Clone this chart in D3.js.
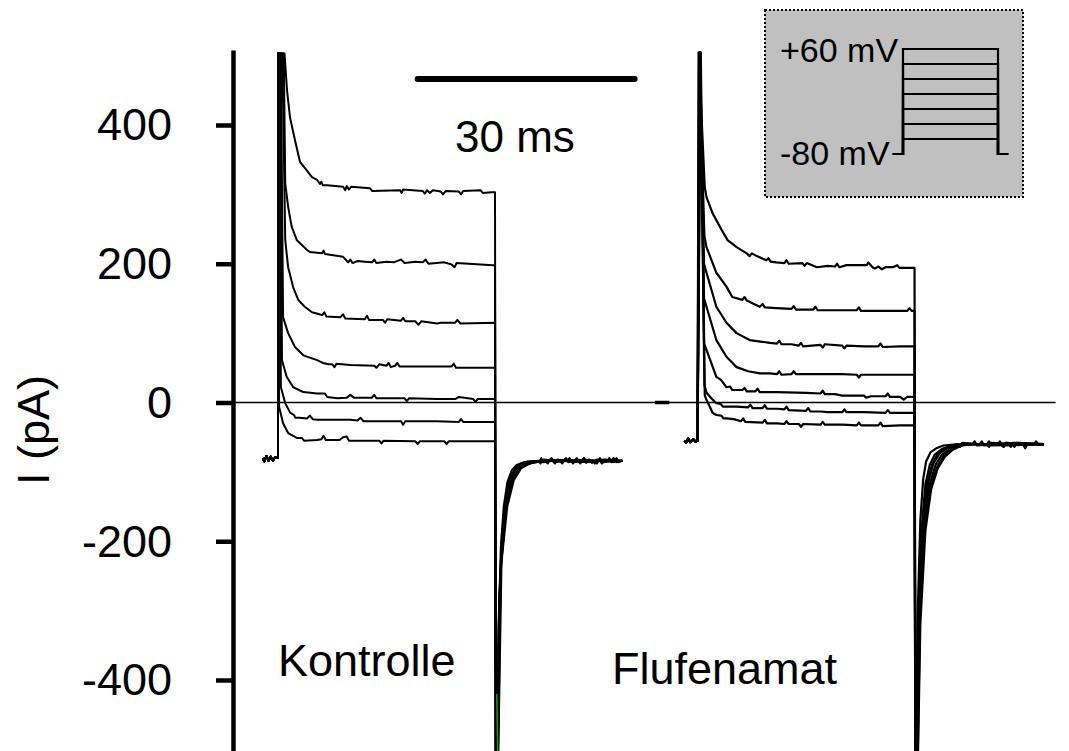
<!DOCTYPE html>
<html><head><meta charset="utf-8">
<script src="https://cdn.jsdelivr.net/npm/d3@7"></script>
<style>
body{margin:0;background:#fff}
svg{display:block}
text{font-family:Arial,"Liberation Sans",sans-serif;fill:#000}
</style>
</head><body>
<svg id="c" width="1069" height="751"></svg>
<script>
// ---------------- data ----------------
const yTicks = [-400, -200, 0, 200, 400];
const yTickLabels = ["-400", "-200", "0", "200", "400"];
const yLabel = "I (pA)";
const conditions = ["Kontrolle", "Flufenamat"];
const conditionOnset = [0, 58];          // ms, sweep start of each condition
const stepDuration = 30;                 // ms
const scaleBarMs = 30;
const scaleBarLabel = "30 ms";
const protocolLevels = [60, 40, 20, 0, -20, -40, -60]; // mV
const holdingPotential = -80;            // mV
const protocolLabels = ["+60 mV", "-80 mV"];

// holding current before the step [ms, pA]
const kontrolleHolding = [[-2.1,-80],[-1.9,-85],[-1.6,-77],[-1.3,-84],[-1.0,-78],[-0.7,-84],[-0.4,-79],[0,-80]];
const flufenamatHolding = [[-1.8,-55],[-1.6,-58],[-1.3,-52],[-1.0,-57],[-0.6,-53],[-0.3,-56],[0,-55]];
const flufenamatPreZero = [[-5.9,0],[-3.9,0]];

// Kontrolle sweeps [ms, pA]
const kontrolle = [
 [[0,-80],[0,503],[0.9,503],[1.25,450],[1.66,411],[2.35,378],[3.04,347],[3.73,338],[4.7,325],[5.4,321],[5.8,315],[6.0,318],[6.2,313],[6.8,313],[9.0,311],[9.3,306],[9.5,312],[9.8,307],[10.1,311],[12.7,309],[13,305],[16.9,306],[17.1,302],[17.3,307],[20,305],[20.3,301],[20.6,306],[21,302],[21.4,306],[22.5,304],[22.8,300],[23.2,305],[25,304],[25.3,300],[25.6,305],[28,306],[28.3,302],[29.5,303],[30,303],
  [30.15,-700],[30.5,-320],[30.8,-210],[31.2,-150],[31.7,-115],[32.3,-98],[33,-90],[34,-86],[35,-85],[36.2,-84],[36.4,-80],[36.6,-86],[38,-84],[38.3,-88],[38.6,-82],[40,-84],[42,-84],[42.3,-80],[42.6,-87],[43,-82],[43.4,-87],[44,-83],[46,-84],[46.4,-80],[46.8,-86],[47.6,-84]],
 [[0,-80],[0,503],[0.8,503],[1.0,316],[1.4,282],[1.9,253],[2.6,234],[3.3,227],[4.0,220],[4.4,217],[6.1,215],[6.3,219],[6.5,214],[9,210],[9.7,202],[10,206],[10.3,201],[11,204],[12,203],[13,202],[13.3,206],[13.6,201],[15,203],[16,202],[17,206],[17.5,201],[19,203],[20,202],[20.4,206],[20.8,200],[23,202],[24,199],[24.4,195],[24.7,201],[29.7,198],[30,198],
  [30.15,-700],[30.55,-300],[30.95,-190],[31.5,-135],[32.1,-108],[32.8,-95],[33.6,-88],[34.5,-85],[37,-84],[37.3,-88],[37.6,-82],[39.5,-84],[39.8,-80],[40.1,-86],[41,-84],[43.5,-84],[43.8,-88],[44.1,-82],[45.5,-84],[45.8,-80],[46.1,-86],[47.6,-84]],
 [[0,-80],[0,503],[0.6,503],[1.0,234],[1.4,195],[2.1,166],[2.8,148],[3.7,138],[4.7,130],[5.5,128],[6.1,126],[6.4,130],[6.7,124],[8.6,123],[9,127],[9.3,121],[12,120],[12.3,125],[12.6,119],[14.5,119],[14.8,115],[15.1,120],[17,118],[17.3,122],[17.6,117],[19,117],[19.4,112],[19.8,117],[22,114],[22.5,115],[24.5,115],[24.8,119],[25.2,114],[30,115],
  [30.15,-700],[30.5,-330],[30.9,-205],[31.4,-145],[32,-112],[32.7,-97],[33.4,-89],[34.3,-86],[36,-84],[36.3,-88],[36.6,-82],[38.5,-84],[41,-84],[41.3,-80],[41.6,-86],[44.5,-84],[44.8,-88],[45.1,-82],[47.6,-84]],
 [[0,-80],[0,503],[0.4,503],[0.7,123],[1.4,100],[2.35,80],[3.5,68],[5.4,61],[6.2,57],[7,55],[7.5,55],[7.8,51],[8.1,56],[10,54],[13.3,53],[13.6,50],[14,55],[15,53],[15.3,57],[15.6,51],[16.2,53],[16.5,57],[16.8,52],[20,52],[24,52],[24.3,56],[24.6,50],[29.7,50],[30,50],
  [30.15,-700],[30.6,-280],[31.1,-180],[31.7,-130],[32.4,-105],[33.2,-93],[34.2,-87],[35.5,-85],[37.5,-84],[37.8,-80],[38.1,-86],[40.5,-84],[40.8,-88],[41.1,-82],[43,-84],[46.5,-84],[46.8,-80],[47.1,-86],[47.6,-84]],
 [[0,-80],[0,503],[0.3,503],[0.55,61],[1.2,37],[2.1,22],[3.5,15],[5.4,13],[6.5,13],[6.8,8],[8.2,6],[9.5,7],[10,11],[10.5,7],[13,7],[13.3,11],[13.6,6],[16,6],[17.5,6],[17.8,2],[18.1,6],[22,5],[24.5,5],[25,8],[27,5],[27.3,1],[27.6,5],[30,5],
  [30.15,-700],[30.7,-260],[31.3,-165],[32,-122],[32.8,-100],[33.7,-90],[34.8,-86],[36.5,-84],[39,-84],[39.3,-88],[39.6,-82],[42,-84],[42.3,-80],[42.6,-86],[45,-84],[47.6,-84]],
 [[0,-80],[0,503],[0.1,503],[0.4,22],[1.0,-1],[1.7,-15],[2.2,-18],[2.4,-22],[3.0,-22],[4,-23],[4.4,-19],[4.8,-24],[5.4,-25],[10,-25],[11,-26],[11.4,-22],[11.8,-27],[14,-27],[17,-27],[17.3,-32],[17.6,-27],[22,-27],[25,-28],[25.3,-24],[25.6,-28],[30,-28],
  [30.15,-700],[30.8,-240],[31.5,-155],[32.3,-115],[33.2,-97],[34.3,-89],[35.6,-86],[37.5,-84],[41.5,-84],[41.8,-88],[42.1,-82],[44.2,-84],[44.5,-80],[44.8,-86],[47.6,-84]],
 [[0,-80],[0,503],[0.05,503],[0.15,-6],[0.7,-30],[1.4,-44],[2.6,-51],[3.3,-51],[3.6,-55],[5.4,-54],[6,-53],[6.3,-48],[6.6,-54],[8.5,-54],[9,-50],[9.5,-49],[9.8,-55],[12,-55],[14,-55],[14.3,-59],[14.6,-55],[19,-56],[19.3,-60],[19.6,-56],[23,-56],[23.3,-60],[23.6,-56],[29.7,-56],[30,-56],
  [30.15,-700],[30.9,-230],[31.7,-150],[32.6,-112],[33.6,-95],[34.8,-88],[36.2,-85],[38,-84],[40,-84],[40.3,-80],[40.6,-86],[43.8,-84],[44.1,-88],[44.4,-82],[47.6,-84]]
];
const kontrolleGreenTail = [[30.25,-420],[30.4,-520]];

// Flufenamat sweeps [ms from its onset, pA]
const flufenamat = [
 [[0,-55],[0.15,505],[1.0,310],[1.24,296],[2.07,273],[3.32,249],[4.15,234],[5.4,224],[6.8,215],[7.2,211],[7.5,215],[8.2,211],[9.5,205],[9.8,208],[10.1,203],[10.9,202],[12,201],[12.3,205],[12.6,200],[14.5,201],[14.8,197],[15.1,201],[16.5,195],[18,197],[19,196],[19.3,200],[19.6,195],[20.6,198],[23.4,198],[23.6,202],[24.2,195],[24.5,193],[25,196],[25.5,192],[26,195],[27,195],[27.6,198],[27.9,194],[29.7,194],[30,194],
  [30.15,-700],[30.45,-300],[30.8,-170],[31.2,-110],[31.6,-85],[32.2,-72],[33,-66],[34,-62],[36,-60],[36.3,-64],[36.6,-58],[39,-60],[39.3,-56],[39.6,-62],[42,-60],[42.3,-64],[42.6,-58],[45,-60],[45.3,-66],[45.6,-60],[47.9,-60]],
 [[0,-55],[0.2,505],[0.95,240],[1.24,224],[2.6,187],[4.0,167],[4.8,152],[6.2,148],[6.5,152],[6.8,147],[8.6,138],[9,142],[9.3,137],[10.9,136],[13,135],[13.3,139],[13.6,134],[15,134],[16,134],[16.3,138],[16.6,133],[19,133],[22,133],[22.3,137],[22.6,132],[25,132],[29,132],[29.3,136],[29.6,132],[30,132],
  [30.15,-700],[30.55,-310],[31.0,-180],[31.5,-118],[32.1,-90],[32.8,-75],[33.8,-67],[35,-62],[36.5,-60],[38,-60],[38.3,-56],[38.6,-62],[41,-60],[43.5,-60],[43.8,-64],[44.1,-58],[47.9,-60]],
 [[0,-55],[0.25,505],[0.9,200],[1.24,187],[2.6,138],[4.0,115],[5.4,100],[7.2,90],[10,86],[11,85],[11.3,89],[11.6,84],[13,84],[14,82],[14.3,86],[14.6,81],[17,83],[17.3,79],[17.6,84],[20,82],[20.3,78],[20.6,82],[23,81],[25,81],[25.3,85],[25.6,80],[28,81],[30,81],
  [30.15,-700],[30.6,-300],[31.1,-178],[31.7,-118],[32.4,-90],[33.2,-74],[34.2,-66],[35.5,-62],[37,-60],[40,-60],[40.3,-64],[40.6,-58],[44,-60],[46.5,-60],[46.8,-56],[47.1,-61],[47.9,-60]],
 [[0,-55],[0.3,505],[0.9,150],[1.24,138],[2.6,90],[4.0,66],[5.4,51],[7,45],[8.6,42],[10,42],[11,41],[11.3,45],[11.6,40],[13,41],[13.3,45],[13.6,41],[20,41],[22,40],[22.3,36],[22.6,40],[30,40],
  [30.15,-700],[30.65,-290],[31.2,-172],[31.9,-115],[32.6,-88],[33.5,-73],[34.5,-66],[35.8,-62],[37.5,-60],[41.5,-60],[41.8,-56],[42.1,-62],[47.9,-60]],
 [[0,-55],[0.35,505],[0.9,85],[1.24,76],[2.6,37],[3.2,33],[3.5,29],[4.0,22],[4.5,23],[4.8,18],[6.2,18],[6.5,21],[6.8,16],[8,16],[8.3,20],[8.6,15],[10.9,15],[15,14],[17,13],[17.3,17],[17.6,12],[19,12],[20,10],[23,10],[23.3,7],[24,9],[26,9],[26.3,13],[26.6,8],[28,8],[28.5,4],[29,8],[30,8],
  [30.15,-700],[30.7,-300],[31.3,-175],[32.1,-118],[32.9,-90],[33.8,-75],[34.9,-67],[36.2,-62],[37.8,-60],[43,-60],[43.3,-64],[43.6,-58],[47.9,-60]],
 [[0,-55],[0.4,505],[0.95,25],[1.24,14],[2.0,5],[2.6,-1],[3.2,-2],[3.5,-6],[5.4,-6],[7,-7],[7.3,-3],[7.6,-8],[9,-8],[9.3,-4],[9.6,-9],[11,-9],[12,-10],[12.3,-6],[12.6,-11],[15,-12],[15.3,-8],[15.6,-13],[17,-13],[18,-14],[20,-14],[20.3,-10],[20.6,-14],[23,-14],[26,-15],[26.3,-11],[26.6,-15],[30,-15],
  [30.15,-700],[30.75,-310],[31.4,-180],[32.2,-122],[33.1,-93],[34,-77],[35.1,-68],[36.4,-62],[38,-60],[40,-60],[40.3,-56],[40.6,-62],[47.9,-60]],
 [[0,-55],[0.45,505],[1.0,10],[1.24,4],[2.1,-15],[2.6,-18],[3.3,-19],[3.6,-23],[4.0,-23],[5,-24],[6,-27],[6.3,-23],[6.6,-28],[9,-29],[9.3,-25],[9.6,-30],[11,-30],[12,-31],[12.3,-27],[12.6,-31],[14,-31],[14.3,-35],[14.6,-31],[17,-32],[17.3,-28],[17.6,-32],[20,-32],[22,-33],[22.3,-29],[22.6,-33],[25,-33],[25.3,-29],[25.6,-34],[28,-33],[30,-33],
  [30.15,-700],[30.8,-320],[31.5,-185],[32.3,-125],[33.2,-95],[34.2,-78],[35.3,-68],[36.5,-62],[38,-60],[42,-60],[42.3,-64],[42.6,-58],[45,-60],[47.9,-60]]
];

// ---------------- drawing ----------------
const svg = d3.select("#c");
const W = 1069, H = 751;

const pxPerPA = 0.69375, zeroY = 402.5;
const y = d3.scaleLinear().domain([-505, 508]).range([zeroY + 505 * pxPerPA, zeroY - 508 * pxPerPA]);
const x = d3.scaleLinear().domain([0, stepDuration]).range([278, 495]);

svg.append("defs").append("clipPath").attr("id", "plotClip")
  .append("rect").attr("x", 235).attr("y", y(506)).attr("width", W - 235).attr("height", H - y(506));

// zero line
svg.append("line")
  .attr("x1", x(-6.4)).attr("x2", x(107.5))
  .attr("y1", y(0)).attr("y2", y(0))
  .attr("stroke", "#000").attr("stroke-width", 1.6);

// traces
const line = d3.line().x(d => x(d[0])).y(d => y(d[1]));
const gT = svg.append("g").attr("clip-path", "url(#plotClip)")
  .attr("fill", "none").attr("stroke", "#000").attr("stroke-width", 2).attr("stroke-linejoin", "round");

kontrolle.forEach(tr => {
  const pts = kontrolleHolding.concat(tr).map(d => [d[0] + conditionOnset[0], d[1]]);
  gT.append("path").attr("d", line(pts));
});
gT.append("path").attr("d", line(kontrolleGreenTail.map(d => [d[0] + conditionOnset[0], d[1]])))
  .attr("stroke", "#1a9a1a").attr("stroke-width", 1.5);

gT.append("path").attr("d", line(flufenamatPreZero.map(d => [d[0] + conditionOnset[1], d[1]])))
  .attr("stroke-width", 3.5);
flufenamat.forEach(tr => {
  const pts = flufenamatHolding.concat(tr).map(d => [d[0] + conditionOnset[1], d[1]]);
  gT.append("path").attr("d", line(pts)).attr("stroke-width", 2.2);
});

// y axis
const axis = d3.axisLeft(y).tickValues(yTicks).tickSize(17).tickSizeOuter(0).tickPadding(44)
  .tickFormat((d, i) => yTickLabels[i]);
const gA = svg.append("g").attr("transform", "translate(233,0)").call(axis);
gA.select(".domain").attr("stroke-width", 4.5);
gA.selectAll(".tick line").attr("stroke-width", 4.5);
gA.selectAll(".tick text").attr("font-size", 45).attr("font-family", "Arial, 'Liberation Sans', sans-serif").attr("dy", "0.33em");

svg.append("text").attr("transform", "translate(49,430) rotate(-90)")
  .attr("text-anchor", "middle").attr("font-size", 45).text(yLabel);

// scale bar
const sbStart = 19.3;
svg.append("line").attr("x1", x(sbStart)).attr("x2", x(sbStart + scaleBarMs))
  .attr("y1", 79).attr("y2", 79).attr("stroke", "#000").attr("stroke-width", 6).attr("stroke-linecap", "round");
svg.append("text").attr("x", 455).attr("y", 152).attr("font-size", 44).text(scaleBarLabel);

// condition labels
svg.append("text").attr("x", 278).attr("y", 676).attr("font-size", 45).text(conditions[0]);
svg.append("text").attr("x", 612).attr("y", 684).attr("font-size", 45).text(conditions[1]);

// inset protocol
const inset = svg.append("g");
inset.append("rect").attr("x", 765).attr("y", 10).attr("width", 258).attr("height", 187)
  .attr("fill", "#c0c0c0").attr("stroke", "#000").attr("stroke-width", 2).attr("stroke-dasharray", "2,2");
const ix = d3.scaleLinear().domain([0, stepDuration]).range([903, 998]);
const iy = d3.scaleLinear().domain([holdingPotential, protocolLevels[0]]).range([154, 49]);
const stub = 3.2;
protocolLevels.forEach(L => {
  inset.append("path")
    .attr("d", `M${ix(-stub)},${iy(holdingPotential)}H${ix(0)}V${iy(L)}H${ix(stepDuration)}V${iy(holdingPotential)}H${ix(stepDuration + stub)}`)
    .attr("fill", "none").attr("stroke", "#000").attr("stroke-width", 2.2);
});
inset.append("text").attr("x", 780).attr("y", 62).attr("font-size", 34).text(protocolLabels[0]);
inset.append("text").attr("x", 780).attr("y", 165).attr("font-size", 34).text(protocolLabels[1]);
</script>
</body></html>
